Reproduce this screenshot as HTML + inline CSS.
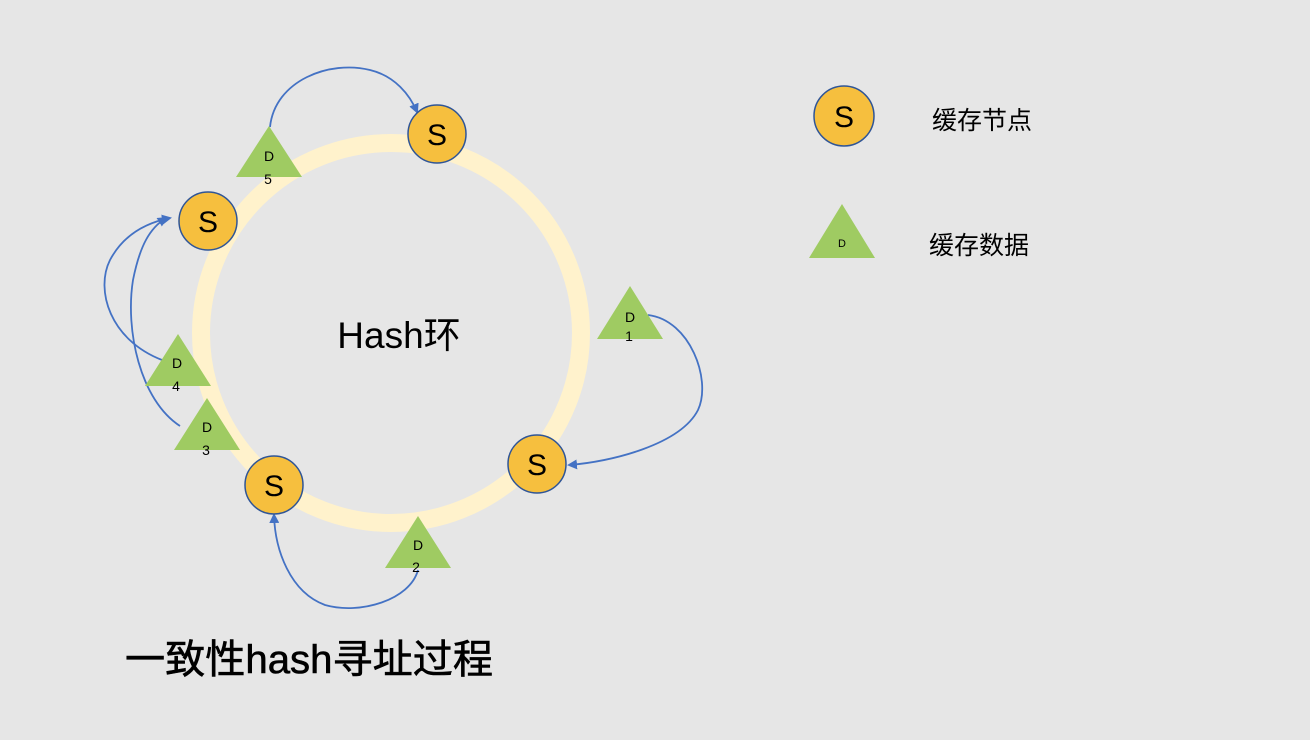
<!DOCTYPE html>
<html><head><meta charset="utf-8"><style>
html,body{margin:0;padding:0;background:#e6e6e6;}
svg{display:block}
text{font-family:"Liberation Sans","Noto Sans CJK SC",sans-serif;}
</style></head><body>
<svg width="1310" height="740" viewBox="0 0 1310 740" xmlns="http://www.w3.org/2000/svg">
<defs>
<marker id="a" markerWidth="10" markerHeight="10" refX="8" refY="5" orient="auto" markerUnits="userSpaceOnUse">
<path d="M0,0 L10,5 L0,10 z" fill="#4472C4"/></marker>
</defs>
<rect width="1310" height="740" fill="#e6e6e6"/>
<circle cx="391" cy="333" r="190" fill="none" stroke="#FFF2CC" stroke-width="18"/>
<text x="399" y="348" font-size="37" text-anchor="middle" fill="#000">Hash环</text>

<g fill="none" stroke="#4472C4" stroke-width="1.8">
<path d="M270,127 C275,80 330,60 370,70 C395,76 410,95 417,112" marker-end="url(#a)"/>
<path d="M648,315 C690,320 712,380 698,410 C680,445 610,462 569,465" marker-end="url(#a)"/>
<path d="M162,360 C110,340 95,290 110,260 C125,232 150,222 170,218" marker-end="url(#a)"/>
<path d="M180,426 C140,400 125,330 133,280 C140,245 150,228 166,218" marker-end="url(#a)"/>
<path d="M418,570 C410,600 360,615 325,605 C290,592 275,550 274,515" marker-end="url(#a)"/>
</g>

<g fill="#9FCB62">
<polygon points="269,126 302,177 236,177"/>
<polygon points="630,286 663,339 597,339"/>
<polygon points="178,334 211,386 145,386"/>
<polygon points="207,398 240,450 174,450"/>
<polygon points="418,516 451,568 385,568"/>
<polygon points="842,204 875,258 809,258"/>
</g>
<g font-size="14" fill="#000" text-anchor="middle">
<text x="269" y="161">D</text><text x="268" y="184">5</text>
<text x="630" y="322">D</text><text x="629" y="341">1</text>
<text x="177" y="368">D</text><text x="176" y="391">4</text>
<text x="207" y="432">D</text><text x="206" y="455">3</text>
<text x="418" y="550">D</text><text x="416" y="572">2</text>
<text x="842" y="247" font-size="11">D</text>
</g>

<g fill="#F6BF3E" stroke="#2F5597" stroke-width="1.5">
<circle cx="437" cy="134" r="29"/>
<circle cx="208" cy="221" r="29"/>
<circle cx="274" cy="485" r="29"/>
<circle cx="537" cy="464" r="29"/>
<circle cx="844" cy="116" r="30"/>
</g>
<g font-size="30" fill="#000" text-anchor="middle">
<text x="437" y="145">S</text>
<text x="208" y="232">S</text>
<text x="274" y="496">S</text>
<text x="537" y="475">S</text>
<text x="844" y="127">S</text>
</g>

<text x="932" y="129" font-size="25" fill="#000">缓存节点</text>
<text x="929" y="254" font-size="25" fill="#000">缓存数据</text>
<text x="125" y="673" font-size="40" fill="#000" stroke="#000" stroke-width="0.6" textLength="368" lengthAdjust="spacingAndGlyphs">一致性hash寻址过程</text>
</svg>
</body></html>
